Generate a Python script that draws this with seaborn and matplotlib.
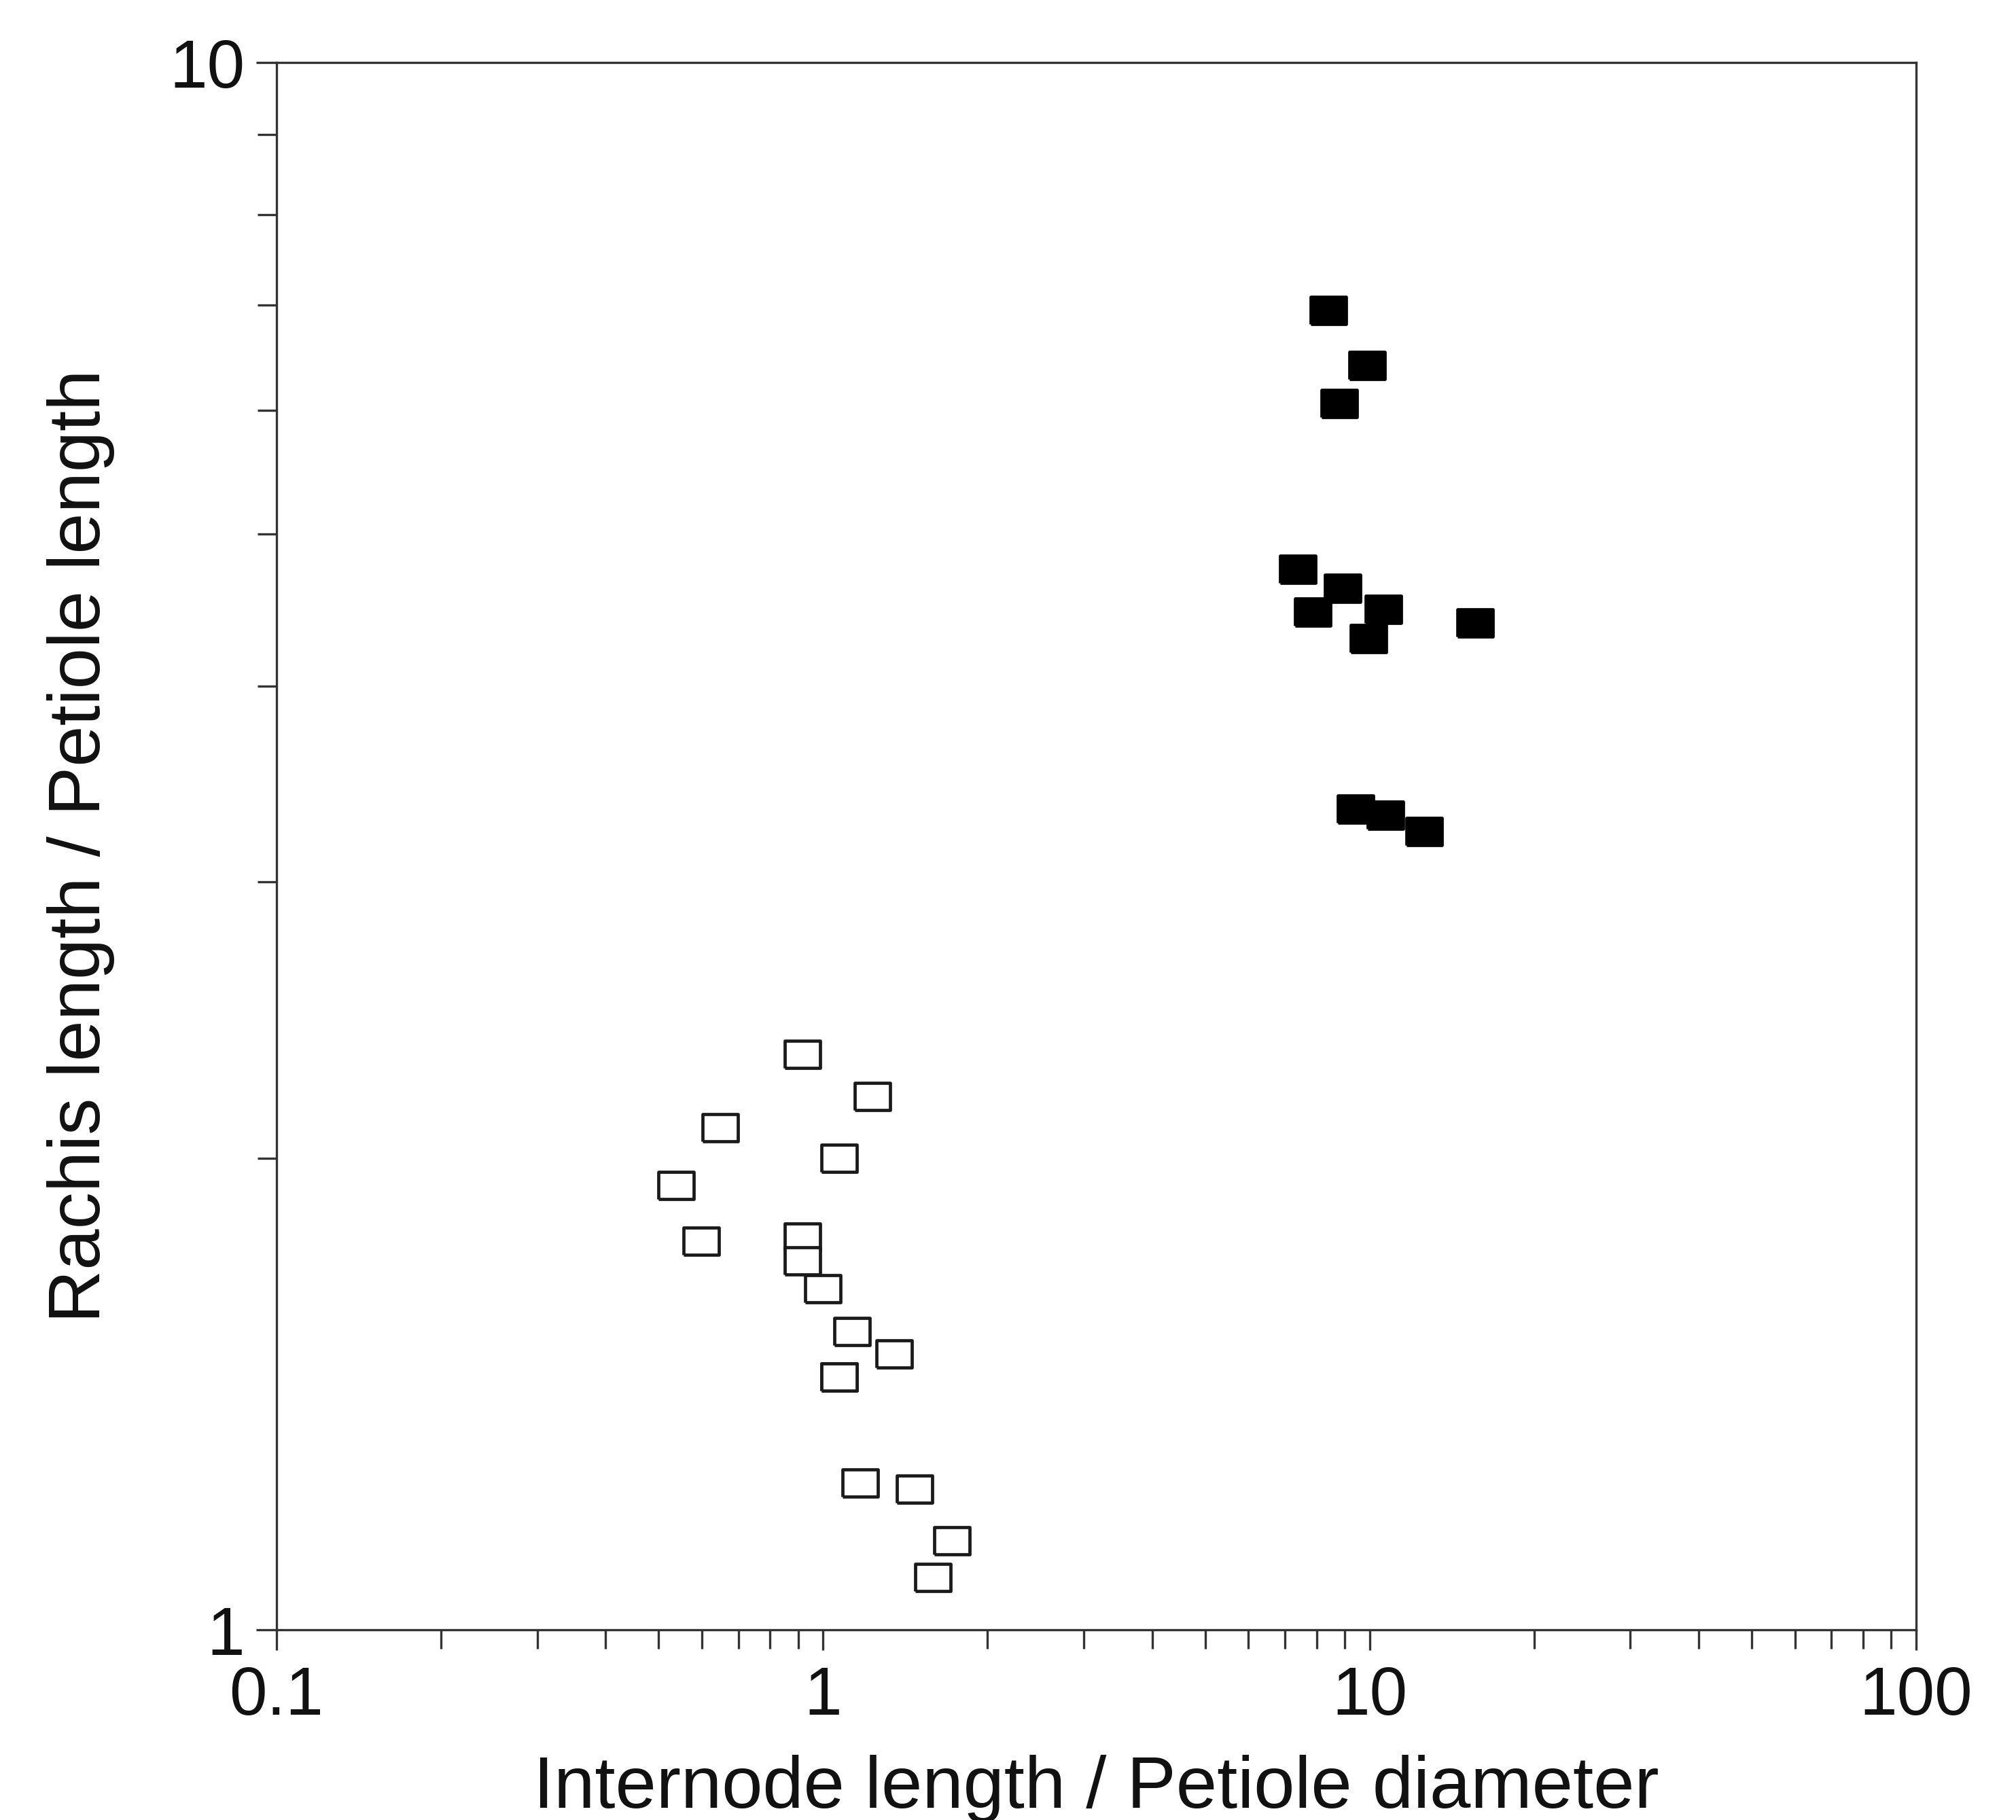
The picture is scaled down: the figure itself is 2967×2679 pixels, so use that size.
import matplotlib
matplotlib.use("Agg")
import matplotlib.pyplot as plt
import seaborn as sns
import pandas as pd
import numpy as np
from matplotlib.ticker import LogLocator, FixedLocator, NullFormatter

# ---- data ----
filled_x = [8.41, 9.90, 8.79, 7.39, 8.93, 7.88, 10.6, 9.95, 15.6, 9.42, 10.7, 12.6]
filled_y = [6.95, 6.41, 6.06, 4.75, 4.62, 4.46, 4.48, 4.29, 4.39, 3.34, 3.31, 3.23]

open_x = [0.916, 1.23, 0.648, 1.07, 0.539, 0.598, 0.916, 0.916, 1.00, 1.13, 1.35,
          1.07, 1.07, 1.17, 1.47, 1.72, 1.59]
open_y = [2.33, 2.19, 2.09, 2.00, 1.92, 1.77, 1.78, 1.72, 1.65, 1.55, 1.50,
          1.45, 1.45, 1.24, 1.23, 1.14, 1.08]

x_ticks = [0.1, 1, 10, 100]
x_ticklabels = ["0.1", "1", "10", "100"]
y_ticks = [1, 10]
y_ticklabels = ["1", "10"]
x_label = "Internode length / Petiole diameter"
y_label = "Rachis length / Petiole length"

df_filled = pd.DataFrame({"x": filled_x, "y": filled_y})
df_open = pd.DataFrame({"x": open_x, "y": open_y})

sns.set_theme(style="white")
plt.rcParams["font.family"] = ["Liberation Sans", "DejaVu Sans"]

W, H = 2967, 2679
fig = plt.figure(figsize=(W / 100, H / 100), dpi=100)
left, right, top, bottom = 407, 2820, 92, 2399
ax = fig.add_axes([left / W, 1 - bottom / H, (right - left) / W, (bottom - top) / H])

rect = [(-1.3, -1.0), (1.3, -1.0), (1.3, 1.0), (-1.3, 1.0), (-1.3, -1.0)]
msize = 1400

sns.scatterplot(data=df_open, x="x", y="y", ax=ax, marker=rect, s=msize,
                color="white", edgecolor="#1a1a1a", linewidth=3.4, zorder=3)
sns.scatterplot(data=df_filled, x="x", y="y", ax=ax, marker=rect, s=msize,
                color="black", edgecolor="black", linewidth=3.4, zorder=3)

ax.set_xscale("log")
ax.set_yscale("log")
ax.set_xlim(0.1, 100)
ax.set_ylim(1, 10)

ax.xaxis.set_major_locator(FixedLocator(x_ticks))
ax.set_xticklabels(x_ticklabels)
ax.yaxis.set_major_locator(FixedLocator(y_ticks))
ax.set_yticklabels(y_ticklabels)
ax.xaxis.set_minor_locator(LogLocator(base=10, subs=np.arange(2, 10)))
ax.yaxis.set_minor_locator(LogLocator(base=10, subs=np.arange(2, 10)))
ax.xaxis.set_minor_formatter(NullFormatter())
ax.yaxis.set_minor_formatter(NullFormatter())

for sp in ax.spines.values():
    sp.set_visible(True)
    sp.set_color("#333333")
    sp.set_linewidth(2.4)

ax.tick_params(which="both", direction="out", bottom=True, left=True,
               top=False, right=False, color="#333333", width=2.4)
ax.tick_params(which="major", length=21.5, labelsize=72, labelcolor="#111111")
ax.tick_params(axis="x", which="major", pad=16)
ax.tick_params(axis="y", which="major", pad=12)
ax.tick_params(which="minor", length=20)

ax.set_xlabel(x_label, fontsize=78, color="#111111", labelpad=27)
ax.set_ylabel(y_label, fontsize=78, color="#111111", labelpad=58)
ax.grid(False)

fig.savefig("out.png", dpi=100, facecolor="white")
